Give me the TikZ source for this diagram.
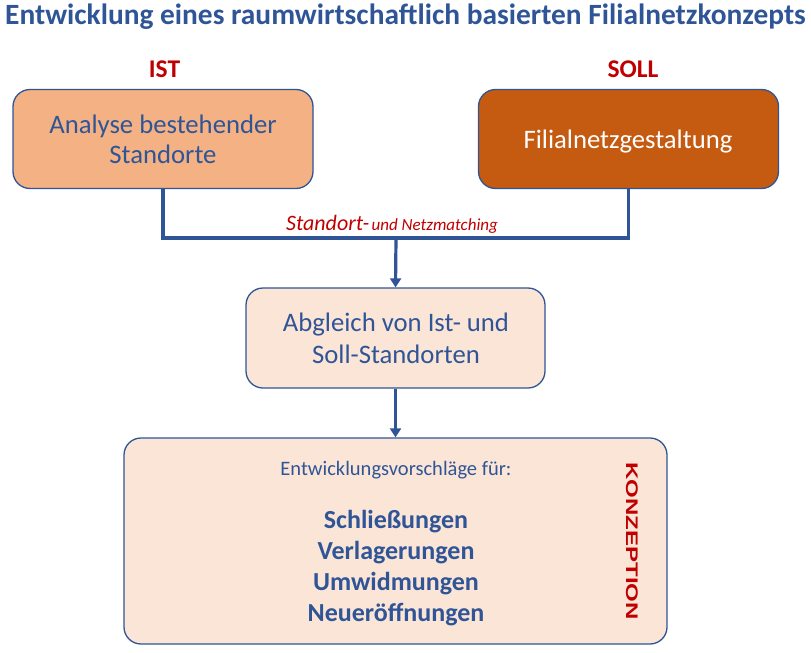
\documentclass[tikz,border=0pt]{standalone}
\usepackage{fontspec}
\setmainfont{Carlito}
\newfontfamily\arialfont{Liberation Sans}
\usetikzlibrary{arrows.meta}
\definecolor{dblue}{HTML}{2F5597}
\definecolor{dred}{HTML}{C00000}
\definecolor{lorange}{HTML}{F4B183}
\definecolor{dorange}{HTML}{C55A11}
\definecolor{pale}{HTML}{FBE5D6}
\tikzset{
  box/.style={draw=dblue, line width=1.3pt, rounded corners=17pt, inner sep=0pt},
  conn/.style={draw=dblue, line width=3.2pt},
  arr/.style={conn, -{Triangle[width=11pt,length=9pt]}},
  txt/.style={anchor=base, inner sep=0pt, text=dblue},
  boxfont/.style={font=\fontsize{26.7}{30}\selectfont},
  itemfont/.style={font=\fontsize{26}{28}\selectfont\bfseries},
}
\begin{document}
\begin{tikzpicture}[x=1pt,y=-1pt]
\useasboundingbox (0,0) rectangle (811,653);
% title
\node[anchor=base west, inner sep=0pt, text=dblue, font=\fontsize{29.4}{32}\selectfont\bfseries] (title) at (5,24.3) {Entwicklung eines raumwirtschaftlich basierten Filialnetzkonzepts};
% IST / SOLL
\node[anchor=base, inner sep=0pt, text=dred, font=\fontsize{25.5}{28}\selectfont\bfseries] (ist) at (164.5,77.7) {IST};
\node[anchor=base, inner sep=0pt, text=dred, font=\fontsize{25.5}{28}\selectfont\bfseries] (soll) at (633,77.7) {SOLL};
% boxes
\node[box, fill=lorange, minimum width=300pt, minimum height=99pt] (b1) at (163,139) {};
\node[box, fill=dorange, minimum width=300pt, minimum height=99pt] (b2) at (628.5,139) {};
\node[box, fill=pale, minimum width=299pt, minimum height=100pt] (b3) at (395.5,338) {};
\node[box, fill=pale, minimum width=543pt, minimum height=206pt] (b4) at (395.5,541) {};
% box texts
\node[txt, boxfont] (t1a) at (163,133) {Analyse bestehender};
\node[txt, boxfont] (t1b) at (163,163) {Standorte};
\node[anchor=base, inner sep=0pt, text=white, boxfont] (t2) at (628,148.3) {Filialnetzgestaltung};
\node[txt, boxfont] (t3a) at (396,331.7) {Abgleich von Ist- und};
\node[txt, boxfont] (t3b) at (396,363.3) {Soll-Standorten};
\node[txt, font=\fontsize{20.5}{23}\selectfont] (t4) at (396,475) {Entwicklungsvorschläge für:};
\node[txt, itemfont] (i1) at (396,528) {Schließungen};
\node[txt, itemfont] (i2) at (396,559) {Verlagerungen};
\node[txt, itemfont] (i3) at (396,590) {Umwidmungen};
\node[txt, itemfont] (i4) at (396,621) {Neueröffnungen};
\node[rotate=-90, inner sep=0pt, text=dred, font=\arialfont\fontsize{24}{26}\selectfont\bfseries] (konz) at (632,541) {\scalebox{1}[0.7]{KONZEPTION}};
% connectors
\coordinate (mid) at (396,238);
\draw[conn] (b1.south) |- (mid) -| (b2.south);
\draw[arr] (mid) -- (b3.north);
\draw[arr] (b3.south) -- (b4.north);
\node[anchor=base, inner sep=0pt, text=dred, font=\itshape] (lab) at (392,230) {{\fontsize{22}{24}\selectfont Standort-} {\fontsize{17}{19}\selectfont und Netzmatching}};
\end{tikzpicture}
\end{document}
